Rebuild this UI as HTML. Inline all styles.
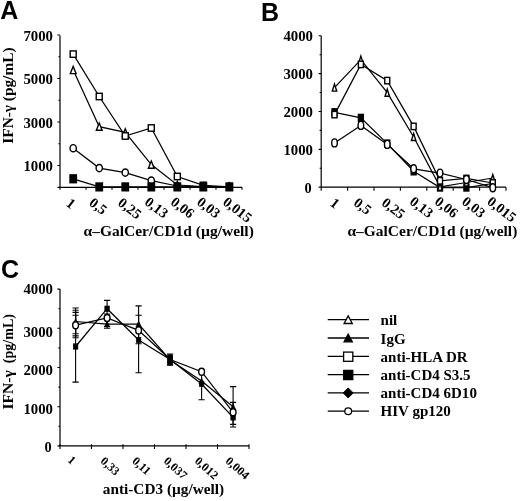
<!DOCTYPE html>
<html><head><meta charset="utf-8"><title>Figure</title>
<style>html,body{margin:0;padding:0;background:#fff}svg{display:block}</style></head><body>
<svg width="520" height="501" viewBox="0 0 520 501">
<rect width="520" height="501" fill="#fff"/>
<text x="0.2" y="18.6" font-family='"Liberation Sans", sans-serif' font-size="25" font-weight="bold" text-anchor="start">A</text>
<path d="M60 35.5V187.3H242M60 187.3h-2.6" fill="none" stroke="#000" stroke-width="1.2"/>
<path d="M60 165.55h-2.6M60 122.05h-2.6M60 78.55h-2.6M60 35.05h-2.6M60 143.80h-1.6M60 100.30h-1.6M60 56.80h-1.6M60.00 187.30V189.70M86.00 187.30V189.70M112.00 187.30V189.70M138.00 187.30V189.70M164.00 187.30V189.70M190.00 187.30V189.70M216.00 187.30V189.70M242.00 187.30V189.70" fill="none" stroke="#000" stroke-width="1.1"/>
<text x="53" y="40.5" font-family='"Liberation Serif", serif' font-size="14.3" font-weight="bold" text-anchor="end" textLength="29.6" lengthAdjust="spacingAndGlyphs">7000</text>
<text x="53" y="84.0" font-family='"Liberation Serif", serif' font-size="14.3" font-weight="bold" text-anchor="end" textLength="29.6" lengthAdjust="spacingAndGlyphs">5000</text>
<text x="53" y="127.5" font-family='"Liberation Serif", serif' font-size="14.3" font-weight="bold" text-anchor="end" textLength="29.6" lengthAdjust="spacingAndGlyphs">3000</text>
<text x="53" y="171.0" font-family='"Liberation Serif", serif' font-size="14.3" font-weight="bold" text-anchor="end" textLength="29.6" lengthAdjust="spacingAndGlyphs">1000</text>
<text x="13" y="95.6" font-family='"Liberation Serif", serif' font-size="15" font-weight="bold" text-anchor="middle" transform="rotate(-90 13 95.6)" textLength="96.2" lengthAdjust="spacingAndGlyphs">IFN-γ (pg/mL)</text>
<text x="83.5" y="236.1" font-family='"Liberation Serif", serif' font-size="14.3" font-weight="bold" text-anchor="start" textLength="170.3" lengthAdjust="spacingAndGlyphs">α–GalCer/CD1d (µg/well)</text>
<text x="65.2" y="205.0" font-family='"Liberation Serif", serif' font-size="14.3" font-weight="bold" text-anchor="start" transform="rotate(37.5 65.2 205.0)">1</text>
<text x="88.3" y="204.5" font-family='"Liberation Serif", serif' font-size="14.3" font-weight="bold" text-anchor="start" transform="rotate(37.5 88.3 204.5)">0,5</text>
<text x="117.0" y="204.5" font-family='"Liberation Serif", serif' font-size="14.3" font-weight="bold" text-anchor="start" transform="rotate(37.5 117.0 204.5)">0,25</text>
<text x="143.8" y="203.7" font-family='"Liberation Serif", serif' font-size="14.3" font-weight="bold" text-anchor="start" transform="rotate(37.5 143.8 203.7)">0,13</text>
<text x="169.8" y="203.7" font-family='"Liberation Serif", serif' font-size="14.3" font-weight="bold" text-anchor="start" transform="rotate(37.5 169.8 203.7)">0,06</text>
<text x="195.9" y="203.7" font-family='"Liberation Serif", serif' font-size="14.3" font-weight="bold" text-anchor="start" transform="rotate(37.5 195.9 203.7)">0,03</text>
<text x="221.9" y="203.7" font-family='"Liberation Serif", serif' font-size="14.3" font-weight="bold" text-anchor="start" transform="rotate(37.5 221.9 203.7)">0,015</text>
<path d="M73.20 70.00L99.23 126.70L125.26 132.40L151.29 164.60L177.32 185.00L203.35 186.50L229.38 186.80" fill="none" stroke="#000" stroke-width="1.25"/>
<path d="M73.20 66.40L76.10 73.60L70.30 73.60Z" fill="#fff" stroke="#000" stroke-width="1.4" stroke-linejoin="miter"/>
<path d="M99.23 123.10L102.13 130.30L96.33 130.30Z" fill="#fff" stroke="#000" stroke-width="1.4" stroke-linejoin="miter"/>
<path d="M125.26 128.80L128.16 136.00L122.36 136.00Z" fill="#fff" stroke="#000" stroke-width="1.4" stroke-linejoin="miter"/>
<path d="M151.29 161.00L154.19 168.20L148.39 168.20Z" fill="#fff" stroke="#000" stroke-width="1.4" stroke-linejoin="miter"/>
<path d="M177.32 181.40L180.22 188.60L174.42 188.60Z" fill="#fff" stroke="#000" stroke-width="1.4" stroke-linejoin="miter"/>
<path d="M203.35 182.90L206.25 190.10L200.45 190.10Z" fill="#fff" stroke="#000" stroke-width="1.4" stroke-linejoin="miter"/>
<path d="M229.38 183.20L232.28 190.40L226.48 190.40Z" fill="#fff" stroke="#000" stroke-width="1.4" stroke-linejoin="miter"/>
<path d="M73.20 54.10L99.23 96.50L125.26 136.00L151.29 128.00L177.32 176.50L203.35 185.40L229.38 186.80" fill="none" stroke="#000" stroke-width="1.25"/>
<rect x="70.20" y="50.90" width="6.00" height="6.40" fill="#fff" stroke="#000" stroke-width="1.4"/>
<rect x="96.23" y="93.30" width="6.00" height="6.40" fill="#fff" stroke="#000" stroke-width="1.4"/>
<rect x="122.26" y="132.80" width="6.00" height="6.40" fill="#fff" stroke="#000" stroke-width="1.4"/>
<rect x="148.29" y="124.80" width="6.00" height="6.40" fill="#fff" stroke="#000" stroke-width="1.4"/>
<rect x="174.32" y="173.30" width="6.00" height="6.40" fill="#fff" stroke="#000" stroke-width="1.4"/>
<rect x="200.35" y="182.20" width="6.00" height="6.40" fill="#fff" stroke="#000" stroke-width="1.4"/>
<rect x="226.38" y="183.60" width="6.00" height="6.40" fill="#fff" stroke="#000" stroke-width="1.4"/>
<path d="M73.20 148.20L99.23 168.10L125.26 172.60L151.29 180.60L177.32 186.00L203.35 186.80L229.38 186.80" fill="none" stroke="#000" stroke-width="1.25"/>
<ellipse cx="73.20" cy="148.20" rx="3.15" ry="3.60" fill="#fff" stroke="#000" stroke-width="1.4"/>
<ellipse cx="99.23" cy="168.10" rx="3.15" ry="3.60" fill="#fff" stroke="#000" stroke-width="1.4"/>
<ellipse cx="125.26" cy="172.60" rx="3.15" ry="3.60" fill="#fff" stroke="#000" stroke-width="1.4"/>
<ellipse cx="151.29" cy="180.60" rx="3.15" ry="3.60" fill="#fff" stroke="#000" stroke-width="1.4"/>
<ellipse cx="177.32" cy="186.00" rx="3.15" ry="3.60" fill="#fff" stroke="#000" stroke-width="1.4"/>
<ellipse cx="203.35" cy="186.80" rx="3.15" ry="3.60" fill="#fff" stroke="#000" stroke-width="1.4"/>
<ellipse cx="229.38" cy="186.80" rx="3.15" ry="3.60" fill="#fff" stroke="#000" stroke-width="1.4"/>
<path d="M73.20 178.80L99.23 186.90L125.26 186.90L151.29 186.90L177.32 186.90L203.35 186.90L229.38 186.90" fill="none" stroke="#000" stroke-width="1.25"/>
<rect x="70.00" y="174.90" width="6.40" height="7.80" fill="#000" stroke="#000" stroke-width="1.4"/>
<rect x="96.03" y="183.00" width="6.40" height="7.80" fill="#000" stroke="#000" stroke-width="1.4"/>
<rect x="122.06" y="183.00" width="6.40" height="7.80" fill="#000" stroke="#000" stroke-width="1.4"/>
<rect x="148.09" y="183.00" width="6.40" height="7.80" fill="#000" stroke="#000" stroke-width="1.4"/>
<rect x="174.12" y="183.00" width="6.40" height="7.80" fill="#000" stroke="#000" stroke-width="1.4"/>
<rect x="200.15" y="183.00" width="6.40" height="7.80" fill="#000" stroke="#000" stroke-width="1.4"/>
<rect x="226.18" y="183.00" width="6.40" height="7.80" fill="#000" stroke="#000" stroke-width="1.4"/>
<text x="261.1" y="20.8" font-family='"Liberation Sans", sans-serif' font-size="25" font-weight="bold" text-anchor="start">B</text>
<path d="M321.2 35.8V187.2H506M321.2 187.2h-2.6" fill="none" stroke="#000" stroke-width="1.2"/>
<path d="M321.2 149.35h-2.6M321.2 111.50h-2.6M321.2 73.65h-2.6M321.2 35.80h-2.6M321.2 168.27h-1.6M321.2 130.42h-1.6M321.2 92.57h-1.6M321.2 54.72h-1.6M321.20 187.20V190.80M347.60 187.20V190.80M374.00 187.20V190.80M400.40 187.20V190.80M426.80 187.20V190.80M453.20 187.20V190.80M479.60 187.20V190.80M506.00 187.20V190.80" fill="none" stroke="#000" stroke-width="1.1"/>
<text x="313" y="41.0" font-family='"Liberation Serif", serif' font-size="14.3" font-weight="bold" text-anchor="end" textLength="29.6" lengthAdjust="spacingAndGlyphs">4000</text>
<text x="313" y="78.8" font-family='"Liberation Serif", serif' font-size="14.3" font-weight="bold" text-anchor="end" textLength="29.6" lengthAdjust="spacingAndGlyphs">3000</text>
<text x="313" y="116.7" font-family='"Liberation Serif", serif' font-size="14.3" font-weight="bold" text-anchor="end" textLength="29.6" lengthAdjust="spacingAndGlyphs">2000</text>
<text x="313" y="154.5" font-family='"Liberation Serif", serif' font-size="14.3" font-weight="bold" text-anchor="end" textLength="29.6" lengthAdjust="spacingAndGlyphs">1000</text>
<text x="311.7" y="193.4" font-family='"Liberation Serif", serif' font-size="14.3" font-weight="bold" text-anchor="end">0</text>
<text x="347.5" y="236.1" font-family='"Liberation Serif", serif' font-size="14.3" font-weight="bold" text-anchor="start" textLength="169.8" lengthAdjust="spacingAndGlyphs">α–GalCer/CD1d (µg/well)</text>
<text x="329.2" y="204.8" font-family='"Liberation Serif", serif' font-size="14.3" font-weight="bold" text-anchor="start" transform="rotate(37.5 329.2 204.8)">1</text>
<text x="352.7" y="204.5" font-family='"Liberation Serif", serif' font-size="14.3" font-weight="bold" text-anchor="start" transform="rotate(37.5 352.7 204.5)">0,5</text>
<text x="380.7" y="204.5" font-family='"Liberation Serif", serif' font-size="14.3" font-weight="bold" text-anchor="start" transform="rotate(37.5 380.7 204.5)">0,25</text>
<text x="408.8" y="203.3" font-family='"Liberation Serif", serif' font-size="14.3" font-weight="bold" text-anchor="start" transform="rotate(37.5 408.8 203.3)">0,13</text>
<text x="433.7" y="203.3" font-family='"Liberation Serif", serif' font-size="14.3" font-weight="bold" text-anchor="start" transform="rotate(37.5 433.7 203.3)">0,06</text>
<text x="460.9" y="203.3" font-family='"Liberation Serif", serif' font-size="14.3" font-weight="bold" text-anchor="start" transform="rotate(37.5 460.9 203.3)">0,03</text>
<text x="486.2" y="203.3" font-family='"Liberation Serif", serif' font-size="14.3" font-weight="bold" text-anchor="start" transform="rotate(37.5 486.2 203.3)">0,015</text>
<path d="M334.50 112.30L360.88 117.90L387.26 143.60L413.64 171.30L440.02 187.50L466.40 187.50L492.78 183.50" fill="none" stroke="#000" stroke-width="1.25"/>
<rect x="332.05" y="108.80" width="4.90" height="7.00" fill="#000" stroke="#000" stroke-width="1.4"/>
<rect x="358.43" y="114.40" width="4.90" height="7.00" fill="#000" stroke="#000" stroke-width="1.4"/>
<rect x="384.81" y="140.10" width="4.90" height="7.00" fill="#000" stroke="#000" stroke-width="1.4"/>
<rect x="411.19" y="167.80" width="4.90" height="7.00" fill="#000" stroke="#000" stroke-width="1.4"/>
<rect x="437.57" y="184.00" width="4.90" height="7.00" fill="#000" stroke="#000" stroke-width="1.4"/>
<rect x="463.95" y="184.00" width="4.90" height="7.00" fill="#000" stroke="#000" stroke-width="1.4"/>
<rect x="490.33" y="180.00" width="4.90" height="7.00" fill="#000" stroke="#000" stroke-width="1.4"/>
<path d="M334.50 87.60L360.88 59.60L387.26 92.70L413.64 137.00L440.02 186.80L466.40 182.50L492.78 178.00" fill="none" stroke="#000" stroke-width="1.25"/>
<path d="M334.50 84.10L336.70 91.10L332.30 91.10Z" fill="#fff" stroke="#000" stroke-width="1.4" stroke-linejoin="miter"/>
<path d="M360.88 56.10L363.08 63.10L358.68 63.10Z" fill="#fff" stroke="#000" stroke-width="1.4" stroke-linejoin="miter"/>
<path d="M387.26 89.20L389.46 96.20L385.06 96.20Z" fill="#fff" stroke="#000" stroke-width="1.4" stroke-linejoin="miter"/>
<path d="M413.64 133.50L415.84 140.50L411.44 140.50Z" fill="#fff" stroke="#000" stroke-width="1.4" stroke-linejoin="miter"/>
<path d="M440.02 183.30L442.22 190.30L437.82 190.30Z" fill="#fff" stroke="#000" stroke-width="1.4" stroke-linejoin="miter"/>
<path d="M466.40 179.00L468.60 186.00L464.20 186.00Z" fill="#fff" stroke="#000" stroke-width="1.4" stroke-linejoin="miter"/>
<path d="M492.78 174.50L494.98 181.50L490.58 181.50Z" fill="#fff" stroke="#000" stroke-width="1.4" stroke-linejoin="miter"/>
<path d="M334.50 114.60L360.88 64.40L387.26 80.60L413.64 126.40L440.02 180.80L466.40 178.50L492.78 183.00" fill="none" stroke="#000" stroke-width="1.25"/>
<rect x="332.00" y="111.40" width="5.00" height="6.40" fill="#fff" stroke="#000" stroke-width="1.4"/>
<rect x="358.38" y="61.20" width="5.00" height="6.40" fill="#fff" stroke="#000" stroke-width="1.4"/>
<rect x="384.76" y="77.40" width="5.00" height="6.40" fill="#fff" stroke="#000" stroke-width="1.4"/>
<rect x="411.14" y="123.20" width="5.00" height="6.40" fill="#fff" stroke="#000" stroke-width="1.4"/>
<rect x="437.52" y="177.60" width="5.00" height="6.40" fill="#fff" stroke="#000" stroke-width="1.4"/>
<rect x="463.90" y="175.30" width="5.00" height="6.40" fill="#fff" stroke="#000" stroke-width="1.4"/>
<rect x="490.28" y="179.80" width="5.00" height="6.40" fill="#fff" stroke="#000" stroke-width="1.4"/>
<path d="M334.50 142.90L360.88 125.40L387.26 144.40L413.64 168.80L440.02 173.10L466.40 179.50L492.78 187.70" fill="none" stroke="#000" stroke-width="1.25"/>
<ellipse cx="334.50" cy="142.90" rx="2.80" ry="4.00" fill="#fff" stroke="#000" stroke-width="1.4"/>
<ellipse cx="360.88" cy="125.40" rx="2.80" ry="4.00" fill="#fff" stroke="#000" stroke-width="1.4"/>
<ellipse cx="387.26" cy="144.40" rx="2.80" ry="4.00" fill="#fff" stroke="#000" stroke-width="1.4"/>
<ellipse cx="413.64" cy="168.80" rx="2.80" ry="4.00" fill="#fff" stroke="#000" stroke-width="1.4"/>
<ellipse cx="440.02" cy="173.10" rx="2.80" ry="4.00" fill="#fff" stroke="#000" stroke-width="1.4"/>
<ellipse cx="466.40" cy="179.50" rx="2.80" ry="4.00" fill="#fff" stroke="#000" stroke-width="1.4"/>
<ellipse cx="492.78" cy="187.70" rx="2.80" ry="4.00" fill="#fff" stroke="#000" stroke-width="1.4"/>
<text x="1.1" y="278.4" font-family='"Liberation Sans", sans-serif' font-size="25" font-weight="bold" text-anchor="start">C</text>
<path d="M60 289V445.9H249M60 445.9h-2.6" fill="none" stroke="#000" stroke-width="1.2"/>
<path d="M60 406.70h-2.6M60 367.50h-2.6M60 328.30h-2.6M60 289.10h-2.6M60 426.30h-1.6M60 387.10h-1.6M60 347.90h-1.6M60 308.70h-1.6M60.00 444.30V448.90M91.50 444.30V448.90M123.00 444.30V448.90M154.50 444.30V448.90M186.00 444.30V448.90M217.50 444.30V448.90M249.00 444.30V448.90" fill="none" stroke="#000" stroke-width="1.1"/>
<text x="53" y="294.4" font-family='"Liberation Serif", serif' font-size="14.3" font-weight="bold" text-anchor="end" textLength="29.6" lengthAdjust="spacingAndGlyphs">4000</text>
<text x="53" y="336.6" font-family='"Liberation Serif", serif' font-size="14.3" font-weight="bold" text-anchor="end" textLength="29.6" lengthAdjust="spacingAndGlyphs">3000</text>
<text x="53" y="375.2" font-family='"Liberation Serif", serif' font-size="14.3" font-weight="bold" text-anchor="end" textLength="29.6" lengthAdjust="spacingAndGlyphs">2000</text>
<text x="53" y="413.9" font-family='"Liberation Serif", serif' font-size="14.3" font-weight="bold" text-anchor="end" textLength="29.6" lengthAdjust="spacingAndGlyphs">1000</text>
<text x="51.6" y="452.4" font-family='"Liberation Serif", serif' font-size="14.3" font-weight="bold" text-anchor="end">0</text>
<text x="13" y="409.6" font-family='"Liberation Serif", serif' font-size="15" font-weight="bold" text-anchor="start" transform="rotate(-90 13 409.6)" textLength="39.5" lengthAdjust="spacingAndGlyphs">IFN-γ</text>
<text x="13" y="363.2" font-family='"Liberation Serif", serif' font-size="15" font-weight="bold" text-anchor="start" transform="rotate(-90 13 363.2)" textLength="49.2" lengthAdjust="spacingAndGlyphs">(pg/mL)</text>
<text x="102.8" y="494.4" font-family='"Liberation Serif", serif' font-size="14.3" font-weight="bold" text-anchor="start" textLength="121.3" lengthAdjust="spacingAndGlyphs">anti-CD3 (µg/well)</text>
<text x="66.9" y="461.09999999999997" font-family='"Liberation Serif", serif' font-size="12" font-weight="bold" text-anchor="start" transform="rotate(42 66.9 461.09999999999997)">1</text>
<text x="99.7" y="461.9" font-family='"Liberation Serif", serif' font-size="12" font-weight="bold" text-anchor="start" transform="rotate(42 99.7 461.9)">0,33</text>
<text x="131.4" y="461.9" font-family='"Liberation Serif", serif' font-size="12" font-weight="bold" text-anchor="start" transform="rotate(42 131.4 461.9)">0,11</text>
<text x="162.9" y="461.9" font-family='"Liberation Serif", serif' font-size="12" font-weight="bold" text-anchor="start" transform="rotate(42 162.9 461.9)">0,037</text>
<text x="193.9" y="461.9" font-family='"Liberation Serif", serif' font-size="12" font-weight="bold" text-anchor="start" transform="rotate(42 193.9 461.9)">0,012</text>
<text x="224.8" y="461.9" font-family='"Liberation Serif", serif' font-size="12" font-weight="bold" text-anchor="start" transform="rotate(42 224.8 461.9)">0,004</text>
<path d="M75.60 308.00V382.10M72.50 308.00H78.70M72.50 382.10H78.70" fill="none" stroke="#000" stroke-width="1.1"/>
<path d="M75.60 310.20V337.70M72.50 310.20H78.70M72.50 337.70H78.70" fill="none" stroke="#000" stroke-width="1.1"/>
<path d="M75.60 312.40V335.90M72.50 312.40H78.70M72.50 335.90H78.70" fill="none" stroke="#000" stroke-width="1.1"/>
<path d="M75.60 315.30V333.70M72.50 315.30H78.70M72.50 333.70H78.70" fill="none" stroke="#000" stroke-width="1.1"/>
<path d="M107.10 300.40V328.20M104.00 300.40H110.20M104.00 328.20H110.20" fill="none" stroke="#000" stroke-width="1.1"/>
<path d="M107.10 314.00V326.50M104.00 314.00H110.20M104.00 326.50H110.20" fill="none" stroke="#000" stroke-width="1.1"/>
<path d="M138.60 305.90V372.80M135.50 305.90H141.70M135.50 372.80H141.70" fill="none" stroke="#000" stroke-width="1.1"/>
<path d="M138.60 315.30V343.80M135.50 315.30H141.70M135.50 343.80H141.70" fill="none" stroke="#000" stroke-width="1.1"/>
<path d="M170.10 354.00V365.00M167.00 354.00H173.20M167.00 365.00H173.20" fill="none" stroke="#000" stroke-width="1.1"/>
<path d="M201.60 372.00V399.80M198.50 372.00H204.70M198.50 399.80H204.70" fill="none" stroke="#000" stroke-width="1.1"/>
<path d="M233.10 386.60V427.00M230.00 386.60H236.20M230.00 427.00H236.20" fill="none" stroke="#000" stroke-width="1.1"/>
<path d="M233.10 402.40V424.40M230.00 402.40H236.20M230.00 424.40H236.20" fill="none" stroke="#000" stroke-width="1.1"/>
<path d="M75.60 321.50L107.10 324.00L138.60 324.00L170.10 360.00L201.60 381.00L233.10 406.80" fill="none" stroke="#000" stroke-width="1.25"/>
<path d="M75.60 318.60L78.30 324.40L72.90 324.40Z" fill="#000" stroke="#000" stroke-width="0.6" stroke-linejoin="miter"/>
<path d="M107.10 321.10L109.80 326.90L104.40 326.90Z" fill="#000" stroke="#000" stroke-width="0.6" stroke-linejoin="miter"/>
<path d="M138.60 321.10L141.30 326.90L135.90 326.90Z" fill="#000" stroke="#000" stroke-width="0.6" stroke-linejoin="miter"/>
<path d="M170.10 357.10L172.80 362.90L167.40 362.90Z" fill="#000" stroke="#000" stroke-width="0.6" stroke-linejoin="miter"/>
<path d="M201.60 378.10L204.30 383.90L198.90 383.90Z" fill="#000" stroke="#000" stroke-width="0.6" stroke-linejoin="miter"/>
<path d="M233.10 403.90L235.80 409.70L230.40 409.70Z" fill="#000" stroke="#000" stroke-width="0.6" stroke-linejoin="miter"/>
<path d="M75.60 346.50L107.10 308.70L138.60 340.00L170.10 359.50L201.60 384.00L233.10 417.40" fill="none" stroke="#000" stroke-width="1.25"/>
<rect x="73.30" y="343.80" width="4.60" height="5.40" fill="#000" stroke="#000" stroke-width="0.6"/>
<rect x="104.80" y="306.00" width="4.60" height="5.40" fill="#000" stroke="#000" stroke-width="0.6"/>
<rect x="136.30" y="337.30" width="4.60" height="5.40" fill="#000" stroke="#000" stroke-width="0.6"/>
<rect x="167.80" y="356.80" width="4.60" height="5.40" fill="#000" stroke="#000" stroke-width="0.6"/>
<rect x="199.30" y="381.30" width="4.60" height="5.40" fill="#000" stroke="#000" stroke-width="0.6"/>
<rect x="230.80" y="414.70" width="4.60" height="5.40" fill="#000" stroke="#000" stroke-width="0.6"/>
<path d="M75.60 325.20L107.10 318.00L138.60 330.40L170.10 359.50L201.60 371.70L233.10 412.30" fill="none" stroke="#000" stroke-width="1.25"/>
<ellipse cx="75.60" cy="325.20" rx="2.90" ry="3.50" fill="#fff" stroke="#000" stroke-width="1.4"/>
<ellipse cx="107.10" cy="318.00" rx="2.90" ry="3.50" fill="#fff" stroke="#000" stroke-width="1.4"/>
<ellipse cx="138.60" cy="330.40" rx="2.90" ry="3.50" fill="#fff" stroke="#000" stroke-width="1.4"/>
<ellipse cx="201.60" cy="371.70" rx="2.90" ry="3.50" fill="#fff" stroke="#000" stroke-width="1.4"/>
<ellipse cx="233.10" cy="412.30" rx="2.90" ry="3.50" fill="#fff" stroke="#000" stroke-width="1.4"/>
<rect x="167.50" y="354.75" width="5.20" height="10.50" fill="#000" stroke="#000" stroke-width="0.6"/>
<path d="M327.7 319.7H369" stroke="#000" stroke-width="1.3"/>
<path d="M348.20 315.90L352.30 323.50L344.10 323.50Z" fill="#fff" stroke="#000" stroke-width="1.3" stroke-linejoin="miter"/>
<text x="380.6" y="325.4" font-family='"Liberation Serif", serif' font-size="14.3" font-weight="bold" text-anchor="start" textLength="16.7" lengthAdjust="spacingAndGlyphs">nil</text>
<path d="M327.7 338.0H369" stroke="#000" stroke-width="1.3"/>
<path d="M348.20 334.20L352.30 341.80L344.10 341.80Z" fill="#000" stroke="#000" stroke-width="1.3" stroke-linejoin="miter"/>
<text x="380.6" y="343.7" font-family='"Liberation Serif", serif' font-size="14.3" font-weight="bold" text-anchor="start" textLength="25.0" lengthAdjust="spacingAndGlyphs">IgG</text>
<path d="M327.7 356.3H369" stroke="#000" stroke-width="1.3"/>
<rect x="343.60" y="352.10" width="9.20" height="9.20" fill="#fff" stroke="#000" stroke-width="1.3"/>
<text x="380.6" y="361.7" font-family='"Liberation Serif", serif' font-size="14.3" font-weight="bold" text-anchor="start" textLength="87.1" lengthAdjust="spacingAndGlyphs">anti-HLA DR</text>
<path d="M327.7 374.6H369" stroke="#000" stroke-width="1.3"/>
<rect x="343.60" y="370.40" width="9.20" height="9.20" fill="#000" stroke="#000" stroke-width="1.3"/>
<text x="380.6" y="379.6" font-family='"Liberation Serif", serif' font-size="14.3" font-weight="bold" text-anchor="start" textLength="90.0" lengthAdjust="spacingAndGlyphs">anti-CD4 S3.5</text>
<path d="M327.7 392.9H369" stroke="#000" stroke-width="1.3"/>
<path d="M348.20 387.90L353.20 392.90L348.20 397.90L343.20 392.90Z" fill="#000" stroke="#000" stroke-width="1"/>
<text x="380.6" y="397.9" font-family='"Liberation Serif", serif' font-size="14.3" font-weight="bold" text-anchor="start" textLength="96.3" lengthAdjust="spacingAndGlyphs">anti-CD4 6D10</text>
<path d="M327.7 411.2H369" stroke="#000" stroke-width="1.3"/>
<ellipse cx="348.20" cy="411.20" rx="3.40" ry="3.40" fill="#fff" stroke="#000" stroke-width="1.3"/>
<text x="380.6" y="416.4" font-family='"Liberation Serif", serif' font-size="14.3" font-weight="bold" text-anchor="start" textLength="70.2" lengthAdjust="spacingAndGlyphs">HIV gp120</text>
</svg></body></html>
